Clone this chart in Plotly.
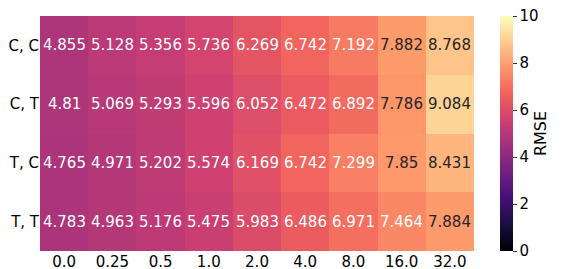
import plotly.graph_objects as go

cols = ["0.0", "0.25", "0.5", "1.0", "2.0", "4.0", "8.0", "16.0", "32.0"]
rows = ["C, C", "C, T", "T, C", "T, T"]
cc = [4.855, 5.128, 5.356, 5.736, 6.269, 6.742, 7.192, 7.882, 8.768]
ct = [4.81, 5.069, 5.293, 5.596, 6.052, 6.472, 6.892, 7.786, 9.084]
tc = [4.765, 4.971, 5.202, 5.574, 6.169, 6.742, 7.299, 7.85, 8.431]
tt = [4.783, 4.963, 5.176, 5.475, 5.983, 6.486, 6.971, 7.464, 7.884]
z = [cc, ct, tc, tt]
zmin, zmax = 0, 10

font = "DejaVu Sans"
fig = go.Figure(go.Heatmap(
    z=z, x=cols, y=rows, colorscale="Magma", zmin=zmin, zmax=zmax,
    xgap=0, ygap=0,
    colorbar=dict(
        title=dict(text="RMSE", side="right", font=dict(size=16, color="#000", family=font)),
        thickness=13, len=1, lenmode="fraction", y=0.5, yanchor="middle",
        x=1.06, xanchor="left", xpad=0, ypad=0, outlinewidth=0,
        ticks="outside", ticklen=4, tickwidth=1, tickcolor="#333", tickprefix=" ",
        tickvals=[0, 2, 4, 6, 8, 10], tickfont=dict(size=15, family=font, color="#000"),
    ),
    hoverinfo="skip",
))

anns = []
for i, row in enumerate(z):
    for j, v in enumerate(row):
        col = "#262626" if v > 7.6 else "#ffffff"
        anns.append(dict(x=j, y=i, text=str(v), showarrow=False,
                         font=dict(size=15, family=font, color=col)))

fig.update_layout(
    width=562, height=269,
    margin=dict(l=40, r=88, t=16, b=18, autoexpand=False),
    paper_bgcolor="white", plot_bgcolor="white",
    annotations=anns,
    font=dict(family=font, size=15, color="#000"),
)
fig.update_xaxes(type="category", showgrid=False, zeroline=False, ticks="", tickangle=0,
                 automargin=False, tickfont=dict(size=15, family=font, color="#000"))
fig.update_yaxes(type="category", showgrid=False, zeroline=False, ticks="", autorange="reversed",
                 automargin=False, tickfont=dict(size=15, family=font, color="#000"))

fig.write_html("out.html", config={"displayModeBar": False},
               post_script="document.body.style.margin='0';document.body.style.padding='0';document.body.style.overflow='hidden';")
